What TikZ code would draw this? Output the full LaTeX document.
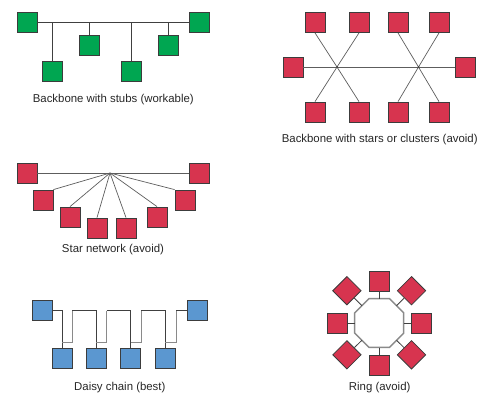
\documentclass[tikz,border=0pt]{standalone}
\usepackage{fontspec}
\setmainfont{Liberation Sans}
\definecolor{boxgreen}{HTML}{00A651}
\definecolor{boxred}{HTML}{D7344F}
\definecolor{boxblue}{HTML}{5B97D0}
\definecolor{edgec}{HTML}{3C3C3C}
\definecolor{wirec}{HTML}{404040}
\definecolor{wirelight}{HTML}{8A8A8A}
\definecolor{labc}{HTML}{262626}
\tikzset{
  dev/.style={rectangle, minimum size=20pt, inner sep=0pt, draw=edgec, line width=0.8pt},
  gbox/.style={dev, fill=boxgreen},
  rbox/.style={dev, fill=boxred},
  bbox/.style={dev, fill=boxblue},
  dbox/.style={rbox, rotate=45},
  wire/.style={draw=wirec, line width=0.8pt},
  wirelt/.style={draw=wirelight, line width=0.9pt},
  spoke/.style={draw=wirec!85, line width=0.7pt},
  ringline/.style={draw=wirelight, line width=1.5pt},
  lab/.style={font=\fontsize{11.4}{13}\selectfont, text=labc, inner sep=0pt}
}
\begin{document}
\begin{tikzpicture}[x=1pt, y=-1pt]
\useasboundingbox (0,0) rectangle (486,394);

% ---------- backbone with stubs ----------
\node[gbox] (bsL) at (27,22) {};
\node[gbox] (bsR) at (199,22) {};
\node[gbox] (bs1) at (52,71) {};
\node[gbox] (bs2) at (89,45.5) {};
\node[gbox] (bs3) at (131,71) {};
\node[gbox] (bs4) at (168,45.5) {};
\draw[wire] (bsL.east) -- (bsR.west);
\foreach \n in {bs1,bs2,bs3,bs4}
  \draw[wire] (\n.north) -- (\n.north |- bsL.east);
\node[lab] (bsT) at (113.3,100) {Backbone with stubs (workable)};

% ---------- backbone with stars ----------
\coordinate (h1) at (337,67);
\coordinate (h2) at (418.5,67);
\node[rbox] (scL) at (293,67) {};
\node[rbox] (scR) at (465,67) {};
\node[rbox] (t1) at (315,22.5) {};
\node[rbox] (t2) at (359,22.5) {};
\node[rbox] (t3) at (398,22.5) {};
\node[rbox] (t4) at (439,22.5) {};
\node[rbox] (u1) at (315,112) {};
\node[rbox] (u2) at (359,112) {};
\node[rbox] (u3) at (398,112) {};
\node[rbox] (u4) at (439,112) {};
\draw[spoke] (scL.east) -- (scR.west);
\draw[spoke] (t1.south) -- (h1) -- (u2.north);
\draw[spoke] (t2.south) -- (h1) -- (u1.north);
\draw[spoke] (t3.south) -- (h2) -- (u4.north);
\draw[spoke] (t4.south) -- (h2) -- (u3.north);
\fill[wirec] (h1) circle (1pt) (h2) circle (1pt);
\node[lab] (scT) at (379.7,140) {Backbone with stars or clusters (avoid)};

% ---------- star network ----------
\coordinate (hub) at (110,173);
\node[rbox] (snL) at (27,173) {};
\node[rbox] (snR) at (199,173) {};
\node[rbox] (sa) at (43,200) {};
\node[rbox] (sb) at (70,217) {};
\node[rbox] (sc) at (97,228) {};
\node[rbox] (sd) at (126,228) {};
\node[rbox] (se) at (157,217) {};
\node[rbox] (sf) at (185,200) {};
\draw[spoke] (snL.east) -- (snR.west);
\draw[spoke] (hub) -- (sa.north east);
\draw[spoke] (hub) -- (sb.north);
\draw[spoke] (hub) -- (sc.north);
\draw[spoke] (hub) -- (sd.north);
\draw[spoke] (hub) -- (se.north);
\draw[spoke] (hub) -- (sf.north west);
\node[lab] (snT) at (113,250) {Star network (avoid)};

% ---------- daisy chain ----------
\node[bbox] (dcL) at (42.3,310.7) {};
\node[bbox] (dcR) at (197,310.7) {};
\node[bbox] (d1) at (62,358.3) {};
\node[bbox] (d2) at (96,358.3) {};
\node[bbox] (d3) at (130.5,358.3) {};
\node[bbox] (d4) at (165,358.3) {};
\coordinate (r1) at (72,310.7);
\coordinate (r2) at (106.5,310.7);
\coordinate (r3) at (141,310.7);
\coordinate (r4) at (176,310.7);
\draw[wire] (dcL.east) -| (d1.north);
\draw[wire] (r1) -| (d2.north);
\draw[wire] (r2) -| (d3.north);
\draw[wire] (r3) -| (d4.north);
\draw[wire] (r4) -- (dcR.west);
\draw[wirelt] ([yshift=5.6pt]d1.north) -| (r1);
\draw[wirelt] ([yshift=5.6pt]d2.north) -| (r2);
\draw[wirelt] ([yshift=5.6pt]d3.north) -| (r3);
\draw[wirelt] ([yshift=5.6pt]d4.north) -| (r4);
\node[lab] (dcT) at (119.8,387.5) {Daisy chain (best)};

% ---------- ring ----------
\coordinate (rc) at (379.2,323);
\draw[ringline] (rc) ++(22.5:26.5)
  \foreach \a in {67.5,112.5,...,337.5} { -- ([shift={(\a:26.5)}]rc) } -- cycle;
\node[rbox] (rgN) at ([shift={(0,-42)}]rc) {};
\node[rbox] (rgS) at ([shift={(0,42.5)}]rc) {};
\node[rbox] (rgW) at ([shift={(-42,0)}]rc) {};
\node[rbox] (rgE) at ([shift={(42,0)}]rc) {};
\node[dbox] (rgNW) at ([shift={(-32.3,-32.3)}]rc) {};
\node[dbox] (rgNE) at ([shift={(32.3,-32.3)}]rc) {};
\node[dbox] (rgSW) at ([shift={(-32.3,31.8)}]rc) {};
\node[dbox] (rgSE) at ([shift={(32.3,31.8)}]rc) {};
\foreach \n/\a in {rgE/0, rgNE/-45, rgN/-90, rgNW/-135, rgW/180, rgSW/135, rgS/90, rgSE/45}
  \draw[wire] ([shift={(\a:24.5)}]rc) -- (\n);
\node[lab] (rgT) at (379.7,387.5) {Ring (avoid)};
\end{tikzpicture}
\end{document}
